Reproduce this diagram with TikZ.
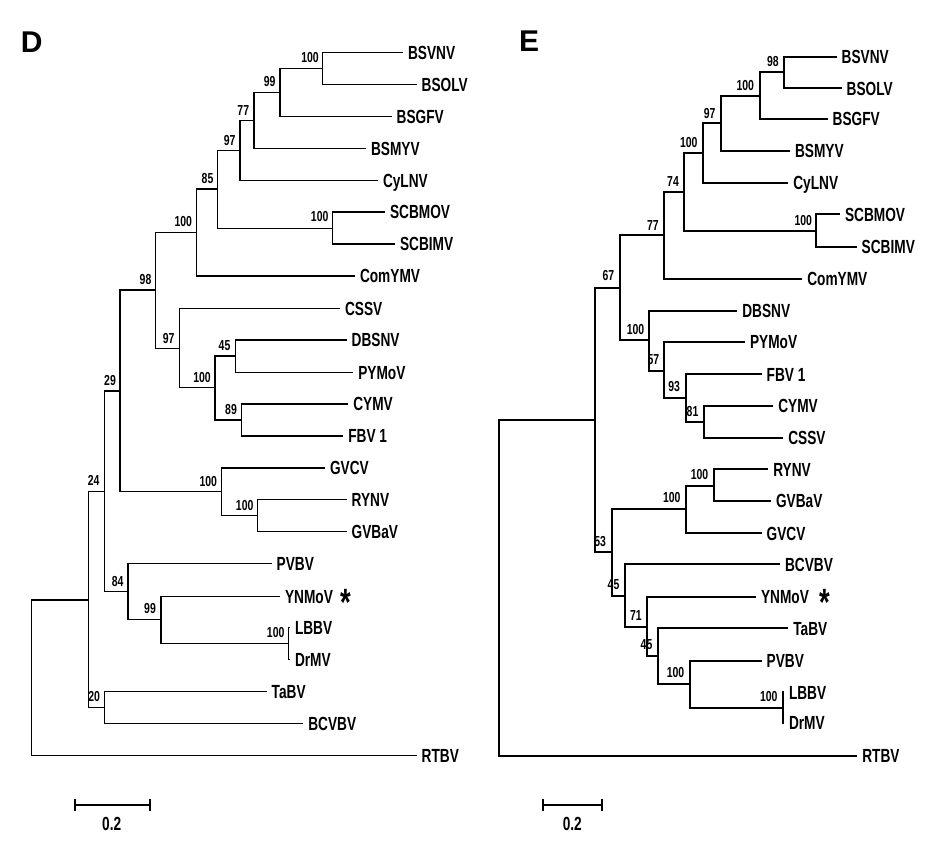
\documentclass[tikz,border=0pt]{standalone}
\usepackage{fontspec}
\newfontfamily\labfont[FakeStretch=0.72]{Liberation Sans}
\newfontfamily\panelfont{Liberation Sans}
\tikzset{
  dbr/.style={line width=1.3pt, line join=miter},
  ebr/.style={line width=2.3pt, line join=miter},
  sbar/.style={line width=2.3pt},
  leaf/.style={anchor=west, inner xsep=5pt, inner ysep=0pt, outer sep=0pt,
    text height=13.5pt, text depth=0pt, font=\labfont\bfseries\fontsize{19}{19}\selectfont},
  bs/.style={inner sep=0pt, text height=10.4pt, text depth=0pt,
    font=\labfont\bfseries\fontsize{14.5}{14.5}\selectfont},
  panel/.style={inner sep=0pt, text height=21.5pt, text depth=0pt,
    font=\panelfont\bfseries\fontsize{30}{30}\selectfont},
  star/.style={anchor=base, inner sep=0pt, font=\labfont\bfseries\fontsize{38}{38}\selectfont},
  sblab/.style={inner sep=0pt, text height=13.5pt, text depth=0pt,
    font=\labfont\bfseries\fontsize{19}{19}\selectfont}
}
\begin{document}
\begin{tikzpicture}[x=1pt,y=-1pt]
\useasboundingbox (0,0) rectangle (925,847);
\fill[white] (0,0) rectangle (925,847);

% ---------------- Panel D ----------------
\node[panel] (pD) at (31.7,42) {D};

\node[leaf] (dBSVNV) at (403,52.3) {BSVNV};
\node[leaf] (dBSOLV) at (416.7,84.3) {BSOLV};
\node[leaf] (dBSGFV) at (391.7,116.3) {BSGFV};
\node[leaf] (dBSMYV) at (366,148.3) {BSMYV};
\node[leaf] (dCyLNV) at (378,180.3) {CyLNV};
\node[leaf] (dSCBMOV) at (385,212) {SCBMOV};
\node[leaf] (dSCBIMV) at (395,244) {SCBIMV};
\node[leaf] (dComYMV) at (355,276) {ComYMV};
\node[leaf] (dCSSV) at (340,308.3) {CSSV};
\node[leaf] (dDBSNV) at (346.7,340) {DBSNV};
\node[leaf] (dPYMoV) at (353.3,372.3) {PYMoV};
\node[leaf] (dCYMV) at (348.3,404) {CYMV};
\node[leaf] (dFBV) at (343.3,436) {FBV 1};
\node[leaf] (dGVCV) at (325,468) {GVCV};
\node[leaf] (dRYNV) at (346.7,499.3) {RYNV};
\node[leaf] (dGVBaV) at (346.7,531.7) {GVBaV};
\node[leaf] (dPVBV) at (271.7,563.3) {PVBV};
\node[leaf] (dYNMoV) at (280,596.7) {YNMoV};
\node[leaf] (dLBBV) at (290,627.7) {LBBV};
\node[leaf] (dDrMV) at (290,659.7) {DrMV};
\node[leaf] (dTaBV) at (266.7,691.7) {TaBV};
\node[leaf] (dBCVBV) at (303.3,723.3) {BCVBV};
\node[leaf] (dRTBV) at (416.7,755.7) {RTBV};
\node[star] (dstar) at (346.3,615.5) {*};

\coordinate (dR) at (31.7,677.8);
\coordinate (dA) at (88.3,600);
\coordinate (d24) at (104.3,491.7);
\coordinate (d20) at (104.3,707.7);
\coordinate (d29) at (120,391);
\coordinate (d84) at (128,591.3);
\coordinate (d98) at (155.7,290);
\coordinate (dGV) at (221.7,491.7);
\coordinate (dC1) at (196.7,232.7);
\coordinate (d85) at (217.7,189);
\coordinate (d97a) at (240,150.7);
\coordinate (d77) at (254,120.7);
\coordinate (d99a) at (280,92.7);
\coordinate (dBS) at (322.7,68.5);
\coordinate (dSC) at (332.7,228.3);
\coordinate (d97b) at (179.3,348.3);
\coordinate (dC2) at (215,387.7);
\coordinate (d45) at (235.3,356);
\coordinate (d89) at (241.7,420);
\coordinate (dRY) at (257.7,515.7);
\coordinate (d99b) at (161,619.7);
\coordinate (dLB) at (288.7,643.7);

\draw[dbr] (dR) |- (dA);
\draw[dbr] (dR) |- (dRTBV.west);
\draw[dbr] (dA) |- (d24);
\draw[dbr] (dA) |- (d20);
\draw[dbr] (d24) |- (d29);
\draw[dbr] (d24) |- (d84);
\draw[dbr] (d29) |- (d98);
\draw[dbr] (d29) |- (dGV);
\draw[dbr] (d98) |- (dC1);
\draw[dbr] (d98) |- (d97b);
\draw[dbr] (dC1) |- (d85);
\draw[dbr] (dC1) |- (dComYMV.west);
\draw[dbr] (d85) |- (d97a);
\draw[dbr] (d85) |- (dSC);
\draw[dbr] (d97a) |- (d77);
\draw[dbr] (d97a) |- (dCyLNV.west);
\draw[dbr] (d77) |- (d99a);
\draw[dbr] (d77) |- (dBSMYV.west);
\draw[dbr] (d99a) |- (dBS);
\draw[dbr] (d99a) |- (dBSGFV.west);
\draw[dbr] (dBS) |- (dBSVNV.west);
\draw[dbr] (dBS) |- (dBSOLV.west);
\draw[dbr] (dSC) |- (dSCBMOV.west);
\draw[dbr] (dSC) |- (dSCBIMV.west);
\draw[dbr] (d97b) |- (dCSSV.west);
\draw[dbr] (d97b) |- (dC2);
\draw[dbr] (dC2) |- (d45);
\draw[dbr] (dC2) |- (d89);
\draw[dbr] (d45) |- (dDBSNV.west);
\draw[dbr] (d45) |- (dPYMoV.west);
\draw[dbr] (d89) |- (dCYMV.west);
\draw[dbr] (d89) |- (dFBV.west);
\draw[dbr] (dGV) |- (dGVCV.west);
\draw[dbr] (dGV) |- (dRY);
\draw[dbr] (dRY) |- (dRYNV.west);
\draw[dbr] (dRY) |- (dGVBaV.west);
\draw[dbr] (d84) |- (dPVBV.west);
\draw[dbr] (d84) |- (d99b);
\draw[dbr] (d99b) |- (dYNMoV.west);
\draw[dbr] (d99b) |- (dLB);
\draw[dbr] (dLB) |- (dLBBV.west);
\draw[dbr] (dLB) |- (dDrMV.west);
\draw[dbr] (d20) |- (dTaBV.west);
\draw[dbr] (d20) |- (dBCVBV.west);

\node[bs] (db1) at (310,57.7) {100};
\node[bs] (db2) at (269.7,81.7) {99};
\node[bs] (db3) at (243.3,110) {77};
\node[bs] (db4) at (229.7,140) {97};
\node[bs] (db5) at (207.5,178) {85};
\node[bs] (db6) at (319.7,216.7) {100};
\node[bs] (db7) at (183.3,221.7) {100};
\node[bs] (db8) at (145.5,279.5) {98};
\node[bs] (db9) at (168.7,337.8) {97};
\node[bs] (db10) at (224.5,345.3) {45};
\node[bs] (db11) at (202,377.5) {100};
\node[bs] (db12) at (231,409) {89};
\node[bs] (db13) at (208.3,481) {100};
\node[bs] (db14) at (244.7,505) {100};
\node[bs] (db15) at (110,380.5) {29};
\node[bs] (db16) at (93.7,480.5) {24};
\node[bs] (db17) at (117.7,580.8) {84};
\node[bs] (db18) at (150,608.7) {99};
\node[bs] (db19) at (275.7,632.7) {100};
\node[bs] (db20) at (94.2,696.3) {20};

\coordinate (dsL) at (75,805);
\coordinate (dsR) at (150,805);
\draw[sbar] (dsL) -- (dsR);
\draw[sbar] ([yshift=-5.7pt]dsL) -- ([yshift=5.7pt]dsL);
\draw[sbar] ([yshift=-5.7pt]dsR) -- ([yshift=5.7pt]dsR);
\node[sblab] (dsT) at (111.7,824) {0.2};

% ---------------- Panel E ----------------
\node[panel] (pE) at (529,41) {E};

\node[leaf] (eBSVNV) at (836.7,56.7) {BSVNV};
\node[leaf] (eBSOLV) at (841.7,88.3) {BSOLV};
\node[leaf] (eBSGFV) at (827.7,119) {BSGFV};
\node[leaf] (eBSMYV) at (790,151) {BSMYV};
\node[leaf] (eCyLNV) at (788.3,183) {CyLNV};
\node[leaf] (eSCBMOV) at (840,214.3) {SCBMOV};
\node[leaf] (eSCBIMV) at (856.7,246.7) {SCBIMV};
\node[leaf] (eComYMV) at (802.3,279) {ComYMV};
\node[leaf] (eDBSNV) at (737.3,310.7) {DBSNV};
\node[leaf] (ePYMoV) at (745,342) {PYMoV};
\node[leaf] (eFBV) at (761.7,374.3) {FBV 1};
\node[leaf] (eCYMV) at (773.3,405.7) {CYMV};
\node[leaf] (eCSSV) at (783.3,437.7) {CSSV};
\node[leaf] (eRYNV) at (768.3,469.3) {RYNV};
\node[leaf] (eGVBaV) at (771,501) {GVBaV};
\node[leaf] (eGVCV) at (761.7,533.3) {GVCV};
\node[leaf] (eBCVBV) at (780,564.3) {BCVBV};
\node[leaf] (eYNMoV) at (756,596.7) {YNMoV};
\node[leaf] (eTaBV) at (788.3,628.3) {TaBV};
\node[leaf] (ePVBV) at (761.7,660.7) {PVBV};
\node[leaf] (eLBBV) at (784,692.3) {LBBV};
\node[leaf] (eDrMV) at (784,722.7) {DrMV};
\node[leaf] (eRTBV) at (857.3,756) {RTBV};
\node[star] (estar) at (825,615.5) {*};

\coordinate (eR) at (499,588);
\coordinate (eA) at (594.7,420);
\coordinate (e67) at (620.3,288.3);
\coordinate (e53) at (611.7,552.3);
\coordinate (e77) at (664,235);
\coordinate (eD100) at (649.3,340.3);
\coordinate (e74) at (684.3,192.3);
\coordinate (eA100) at (702.7,153.3);
\coordinate (e97) at (721.3,123.3);
\coordinate (eB100) at (760,95.7);
\coordinate (e98) at (784,72.3);
\coordinate (eSC) at (815.7,230.7);
\coordinate (e57) at (664.3,371);
\coordinate (e93) at (685.7,398.3);
\coordinate (e81) at (704,422.3);
\coordinate (eGV) at (686,509.3);
\coordinate (eRY) at (714,485.7);
\coordinate (e45a) at (624.7,596);
\coordinate (e71) at (646.7,626.7);
\coordinate (e45b) at (658.3,656);
\coordinate (ePV) at (689.7,684);
\coordinate (eLB) at (782.7,708.3);

\draw[ebr] (eR) |- (eA);
\draw[ebr] (eR) |- (eRTBV.west);
\draw[ebr] (eA) |- (e67);
\draw[ebr] (eA) |- (e53);
\draw[ebr] (e67) |- (e77);
\draw[ebr] (e67) |- (eD100);
\draw[ebr] (e77) |- (e74);
\draw[ebr] (e77) |- (eComYMV.west);
\draw[ebr] (e74) |- (eA100);
\draw[ebr] (e74) |- (eSC);
\draw[ebr] (eA100) |- (e97);
\draw[ebr] (eA100) |- (eCyLNV.west);
\draw[ebr] (e97) |- (eB100);
\draw[ebr] (e97) |- (eBSMYV.west);
\draw[ebr] (eB100) |- (e98);
\draw[ebr] (eB100) |- (eBSGFV.west);
\draw[ebr] (e98) |- (eBSVNV.west);
\draw[ebr] (e98) |- (eBSOLV.west);
\draw[ebr] (eSC) |- (eSCBMOV.west);
\draw[ebr] (eSC) |- (eSCBIMV.west);
\draw[ebr] (eD100) |- (eDBSNV.west);
\draw[ebr] (eD100) |- (e57);
\draw[ebr] (e57) |- (ePYMoV.west);
\draw[ebr] (e57) |- (e93);
\draw[ebr] (e93) |- (eFBV.west);
\draw[ebr] (e93) |- (e81);
\draw[ebr] (e81) |- (eCYMV.west);
\draw[ebr] (e81) |- (eCSSV.west);
\draw[ebr] (e53) |- (eGV);
\draw[ebr] (e53) |- (e45a);
\draw[ebr] (eGV) |- (eRY);
\draw[ebr] (eGV) |- (eGVCV.west);
\draw[ebr] (eRY) |- (eRYNV.west);
\draw[ebr] (eRY) |- (eGVBaV.west);
\draw[ebr] (e45a) |- (eBCVBV.west);
\draw[ebr] (e45a) |- (e71);
\draw[ebr] (e71) |- (eYNMoV.west);
\draw[ebr] (e71) |- (e45b);
\draw[ebr] (e45b) |- (eTaBV.west);
\draw[ebr] (e45b) |- (ePV);
\draw[ebr] (ePV) |- (ePVBV.west);
\draw[ebr] (ePV) |- (eLB);
\draw[ebr] (eLB) |- (eLBBV.west);
\draw[ebr] (eLB) |- (eDrMV.west);

\node[bs] (eb1) at (772.8,61) {98};
\node[bs] (eb2) at (745.3,85) {100};
\node[bs] (eb3) at (709.7,113.3) {97};
\node[bs] (eb4) at (688.7,142) {100};
\node[bs] (eb5) at (673,181.3) {74};
\node[bs] (eb6) at (803.3,220) {100};
\node[bs] (eb7) at (652.8,225) {77};
\node[bs] (eb8) at (608.3,275.3) {67};
\node[bs] (eb9) at (635.5,329) {100};
\node[bs] (eb10) at (653.3,359) {57};
\node[bs] (eb11) at (674.2,386.7) {93};
\node[bs] (eb12) at (692.5,410.8) {81};
\node[bs] (eb13) at (699.5,474) {100};
\node[bs] (eb14) at (671.7,497) {100};
\node[bs] (eb15) at (600.2,540.8) {53};
\node[bs] (eb16) at (613.5,584) {45};
\node[bs] (eb17) at (635.8,615.3) {71};
\node[bs] (eb18) at (646.5,644.7) {45};
\node[bs] (eb19) at (675.5,672.7) {100};
\node[bs] (eb20) at (768.7,696.3) {100};

\coordinate (esL) at (543.3,805);
\coordinate (esR) at (602.3,805);
\draw[sbar] (esL) -- (esR);
\draw[sbar] ([yshift=-5.7pt]esL) -- ([yshift=5.7pt]esL);
\draw[sbar] ([yshift=-5.7pt]esR) -- ([yshift=5.7pt]esR);
\node[sblab] (esT) at (572.3,824) {0.2};
\end{tikzpicture}
\end{document}
